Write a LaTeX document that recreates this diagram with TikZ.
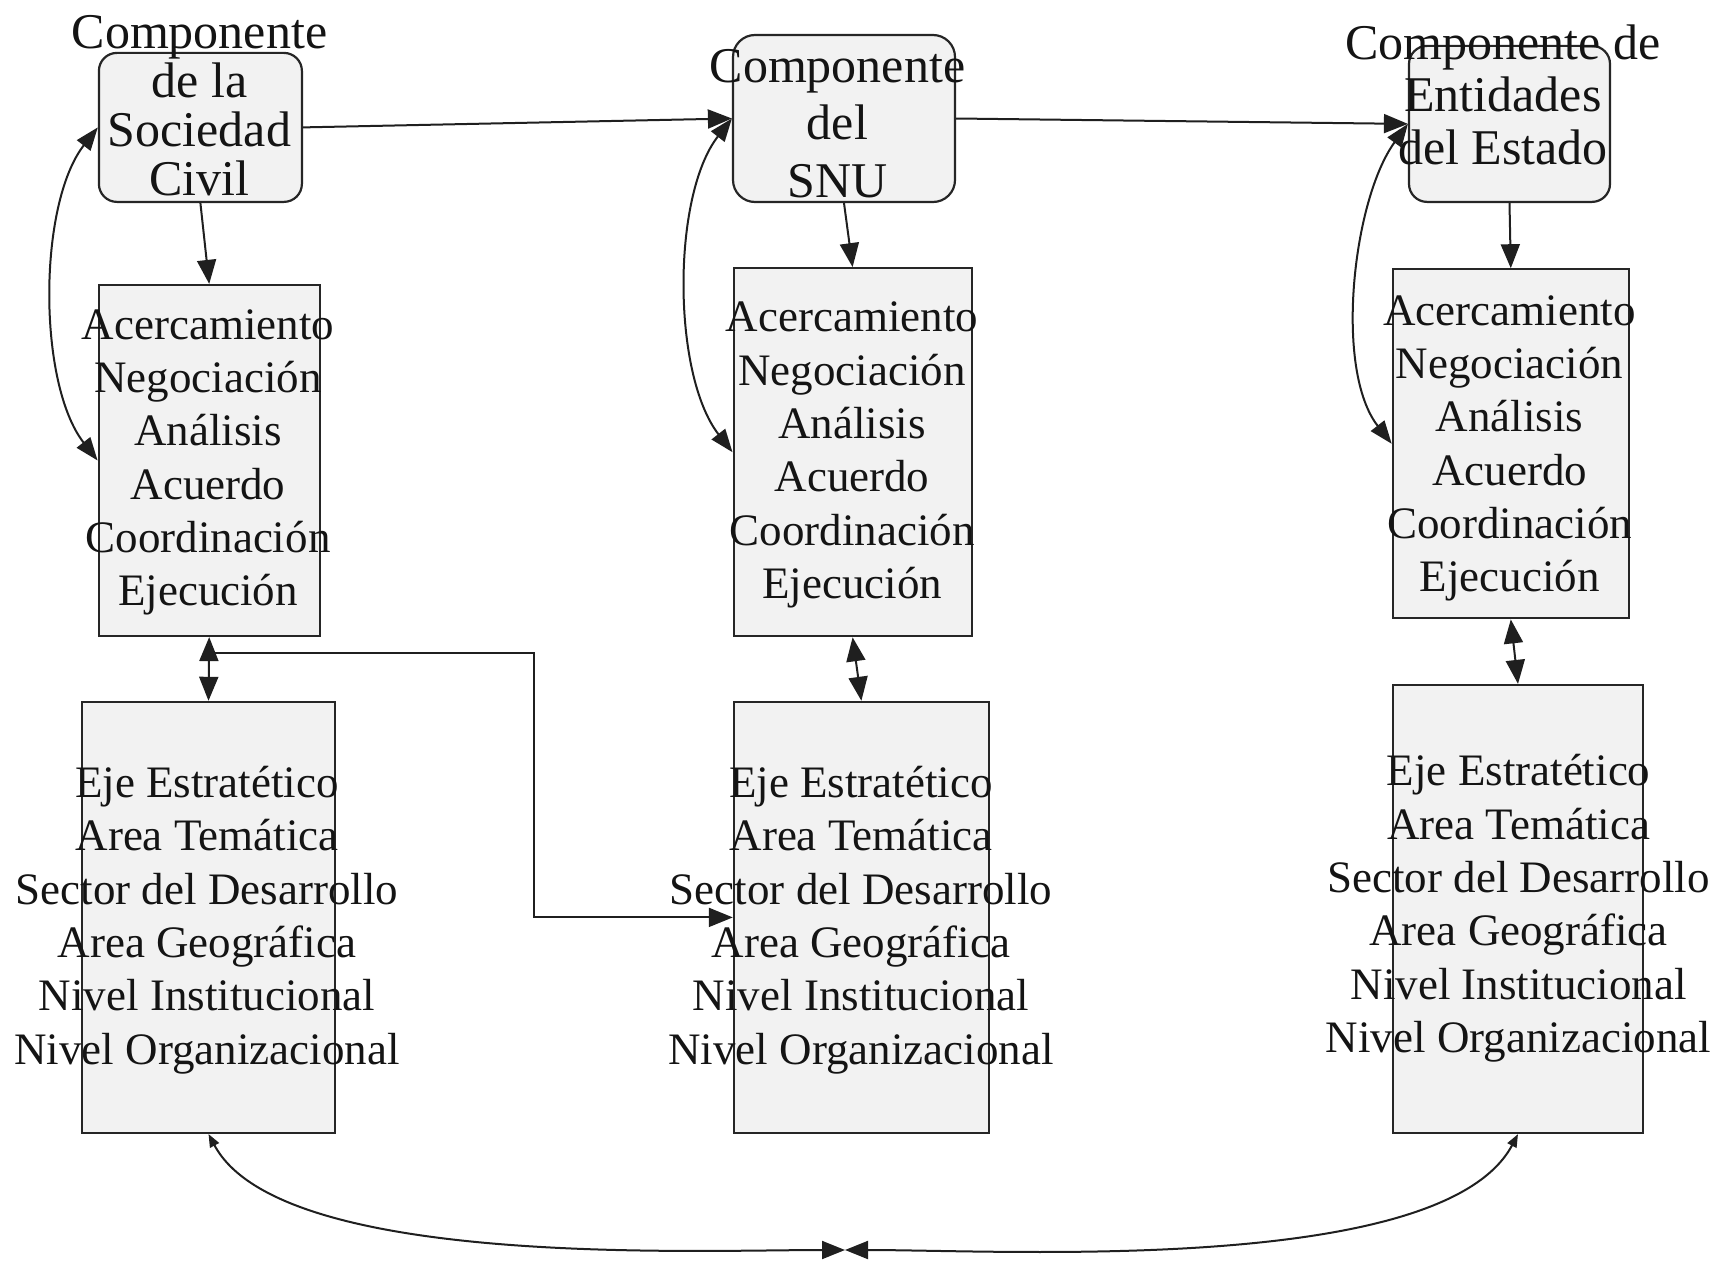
\documentclass[tikz,border=0pt]{standalone}
\usepackage{fontspec}
\setmainfont{Liberation Serif}
\usetikzlibrary{arrows.meta,calc}
\begin{document}
\begin{tikzpicture}[x=1pt,y=-1pt,
  boxfill/.style={fill=black!5, draw=black!85, line width=2.2pt, inner sep=0pt, rectangle},
  sqbox/.style={boxfill},
  rbox/.style={boxfill, rounded corners=18pt},
  toplbl/.style={align=center, text=black!92, inner sep=0pt},
  listlbl/.style={align=center, text=black!92, inner sep=0pt, font=\fontsize{45}{53.3}\selectfont},
  conn/.style={line width=2pt, draw=black!88},
  arr/.style={conn, -{Triangle[length=24pt,width=19pt]}},
  dblarr/.style={conn, {Triangle[length=24pt,width=19pt]}-{Triangle[length=24pt,width=19pt]}},
  curvarr/.style={conn, {Triangle[length=23pt,width=17pt]}-{Triangle[length=23pt,width=17pt]}},
  botarr/.style={conn, {Triangle[length=13pt,width=10pt]}-{Triangle[length=23pt,width=18pt]}}
]
\useasboundingbox (0,0) rectangle (1717,1263);

% top rounded boxes
\node[rbox, minimum width=203pt, minimum height=149pt] (A1) at (200.4,127.4) {};
\node[rbox, rounded corners=22pt, minimum width=222pt, minimum height=167pt] (A2) at (844,118.5) {};
\node[rbox, minimum width=201pt, minimum height=156pt] (A3) at (1509.5,123.9) {};

% middle boxes
\node[sqbox, minimum width=221pt, minimum height=351pt] (B1) at (209.2,460.5) {};
\node[sqbox, minimum width=238pt, minimum height=368pt] (B2) at (852.6,452.2) {};
\node[sqbox, minimum width=236pt, minimum height=349pt] (B3) at (1510.8,443.8) {};

% bottom boxes
\node[sqbox, minimum width=253pt, minimum height=431pt] (C1) at (208.5,917.4) {};
\node[sqbox, minimum width=255pt, minimum height=431pt] (C2) at (861.4,917.4) {};
\node[sqbox, minimum width=250pt, minimum height=448pt] (C3) at (1518,909) {};

% labels
\node[toplbl, font=\fontsize{50}{49}\selectfont] (A1t) at (199.5,106) {Componente\\de la\\Sociedad\\Civil};
\node[toplbl, font=\fontsize{50}{57.5}\selectfont] (A2t) at (837.5,123.5) {Componente\\del\\SNU};
\node[toplbl, font=\fontsize{50}{52.5}\selectfont] (A3t) at (1503,94.5) {Componente de\\Entidades\\del Estado};

\node[listlbl] (B1t) at (208,462.5) {Acercamiento\\Negociación\\Análisis\\Acuerdo\\Coordinación\\Ejecución};
\node[listlbl] (B2t) at (852,455) {Acercamiento\\Negociación\\Análisis\\Acuerdo\\Coordinación\\Ejecución};
\node[listlbl] (B3t) at (1509.6,448.3) {Acercamiento\\Negociación\\Análisis\\Acuerdo\\Coordinación\\Ejecución};

\node[listlbl] (C1t) at (207,920) {Eje Estratético\\Area Temática\\Sector del Desarrollo\\Area Geográfica\\Nivel Institucional\\Nivel Organizacional};
\node[listlbl] (C2t) at (861,920) {Eje Estratético\\Area Temática\\Sector del Desarrollo\\Area Geográfica\\Nivel Institucional\\Nivel Organizacional};
\node[listlbl] (C3t) at (1518.6,908.3) {Eje Estratético\\Area Temática\\Sector del Desarrollo\\Area Geográfica\\Nivel Institucional\\Nivel Organizacional};

% horizontal arrows between top boxes
\draw[arr] (A1.east) -- (A2.west);
\draw[arr] (A2.east) -- (A3.west);

% top -> middle
\draw[arr] (A1.south) -- (B1.north);
\draw[arr] (A2.south) -- (B2.north);
\draw[arr] (A3.south) -- (B3.north);

% curved double arrows on the left
\draw[curvarr] (B1.west) to[out=128, in=232, looseness=0.75] (A1.west);
\draw[curvarr] (B2.west) to[out=128, in=232, looseness=0.75] (A2.west);
\draw[curvarr] (B3.west) to[out=128, in=234, looseness=0.75] (A3.west);

% middle <-> bottom
\draw[dblarr] (B1.south) -- (C1.north);
\draw[dblarr] (B2.south) -- (C2.north);
\draw[dblarr] (B3.south) -- (C3.north);

% elbow connector from first column to second bottom box
\coordinate (j1) at ($(B1.south)!0.25!(C1.north)$);
\coordinate (bx) at (534,0);
\draw[arr] (j1) -| (bx |- C2.west) -- (C2.west);

% bottom curved arrows
\coordinate (mid) at (845,1250);
\draw[botarr] (C1.south) to[out=-62, in=180, looseness=0.6] (mid);
\draw[botarr] (C3.south) to[out=-118, in=0, looseness=0.6] (mid);
\end{tikzpicture}
\end{document}
